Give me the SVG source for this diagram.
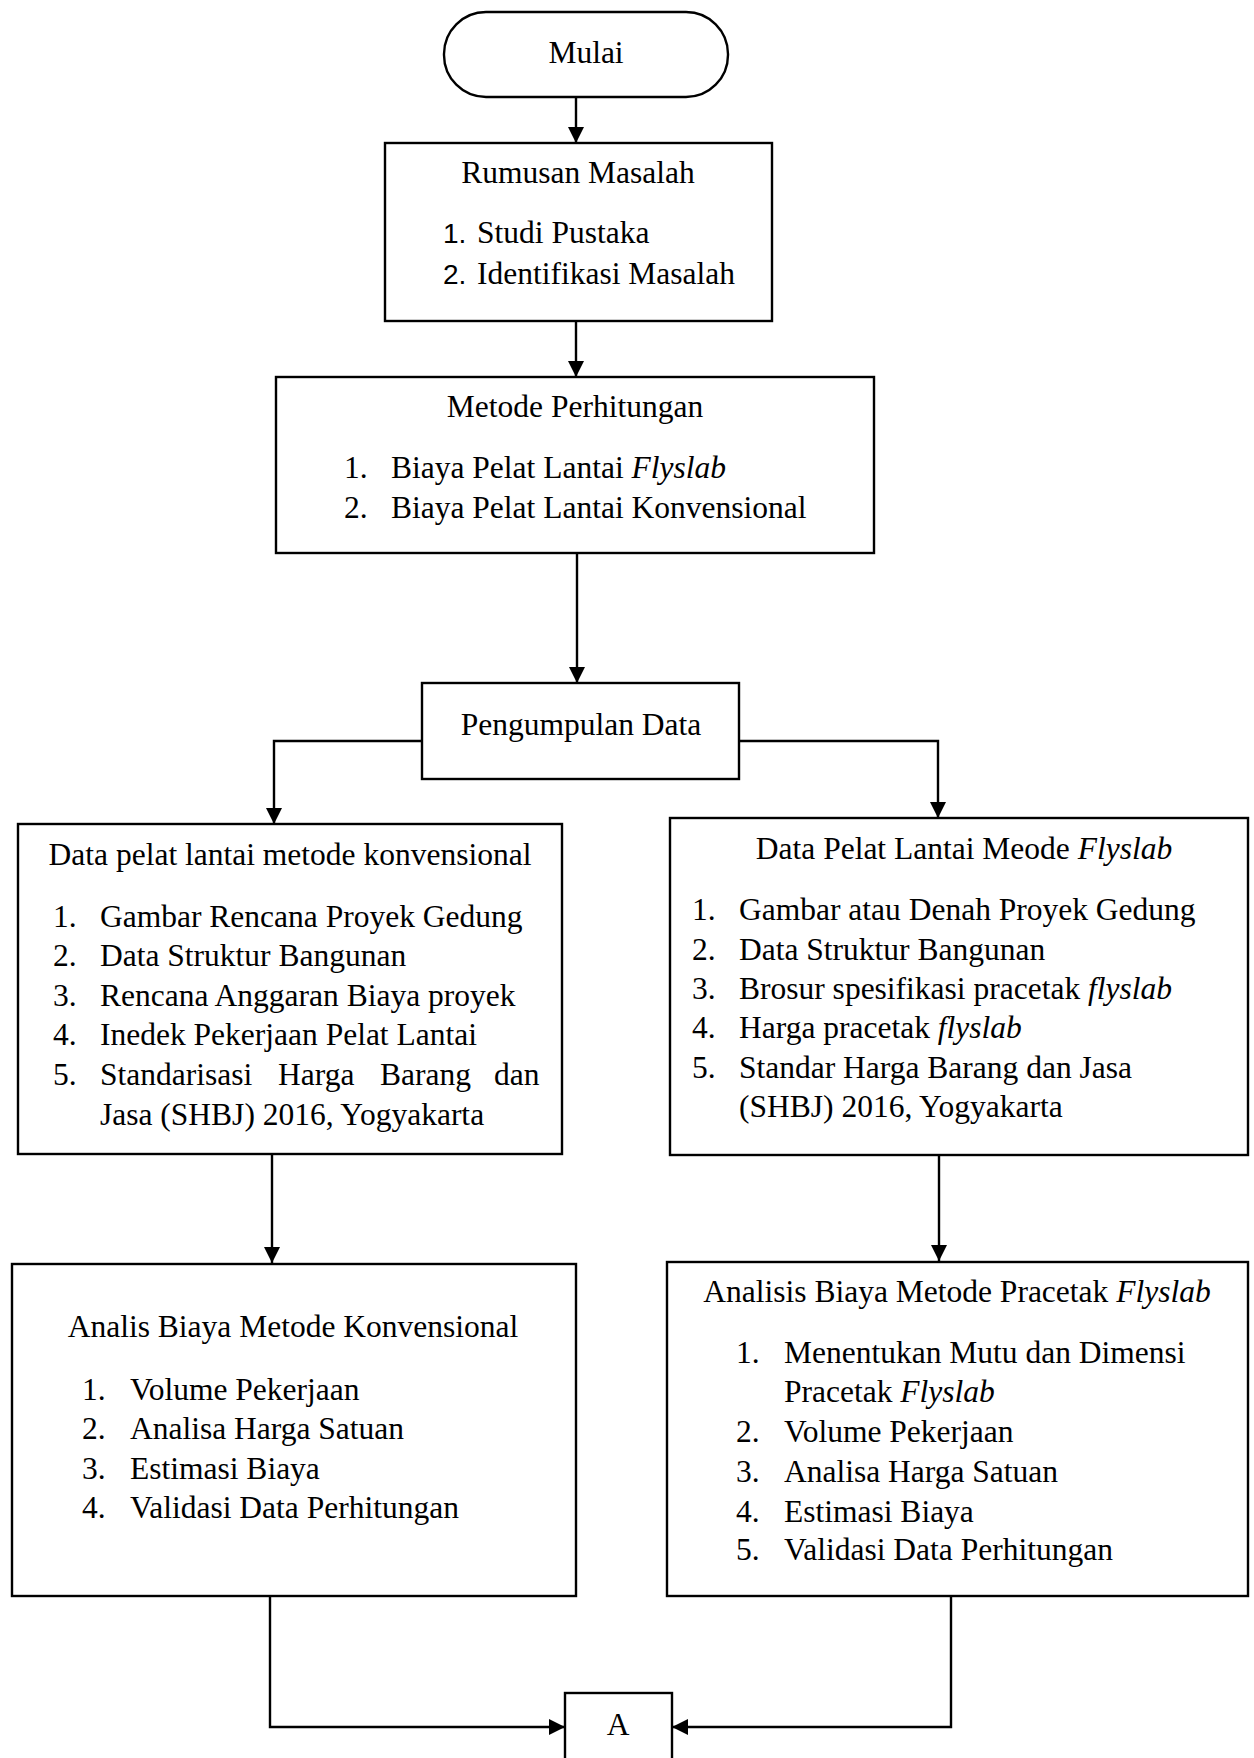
<svg xmlns="http://www.w3.org/2000/svg" width="1254" height="1758" viewBox="0 0 1254 1758">
<style>
  .box { fill: #ffffff; stroke: #000000; stroke-width: 2.4; }
  .conn { fill: none; stroke: #000000; stroke-width: 2.4; }
  text { font-family: "Liberation Serif", "Times New Roman", serif; font-size: 31.5px; fill: #000000; }
  .c { text-anchor: middle; }
  .sans { font-family: "Liberation Sans", Arial, sans-serif; font-size: 28px; }
  .i { font-style: italic; }
</style>
<defs>
  <marker id="arr" markerUnits="userSpaceOnUse" markerWidth="18" markerHeight="18" viewBox="0 0 18 18" refX="16" refY="9" orient="auto">
    <path d="M0,1 L16,9 L0,17 Z" fill="#000000"/>
  </marker>
</defs>
<rect width="1254" height="1758" fill="#ffffff"/>

<g id="connectors">
  <path class="conn" d="M576,97 V143" marker-end="url(#arr)"/>
  <path class="conn" d="M576,321 V377" marker-end="url(#arr)"/>
  <path class="conn" d="M577,553 V683" marker-end="url(#arr)"/>
  <path class="conn" d="M422,741 H274 V824" marker-end="url(#arr)"/>
  <path class="conn" d="M739,741 H938 V818" marker-end="url(#arr)"/>
  <path class="conn" d="M272,1154 V1263" marker-end="url(#arr)"/>
  <path class="conn" d="M939,1155 V1261" marker-end="url(#arr)"/>
  <path class="conn" d="M270,1596 V1727 H565" marker-end="url(#arr)"/>
  <path class="conn" d="M951,1596 V1727 H672" marker-end="url(#arr)"/>
</g>

<g id="mulai">
  <rect class="box" x="444" y="12" width="284" height="85" rx="42" ry="42"/>
  <text class="c" x="586" y="63">Mulai</text>
</g>

<g id="rumusan-masalah">
  <rect class="box" x="385" y="143" width="387" height="178"/>
  <text class="c" x="578" y="183">Rumusan Masalah</text>
  <text class="sans" x="443" y="243">1.</text>
  <text x="477" y="243">Studi Pustaka</text>
  <text class="sans" x="443" y="284">2.</text>
  <text x="477" y="284">Identifikasi Masalah</text>
</g>

<g id="metode-perhitungan">
  <rect class="box" x="276" y="377" width="598" height="176"/>
  <text class="c" x="575" y="417">Metode Perhitungan</text>
  <text x="344" y="478">1.</text>
  <text x="391" y="478">Biaya Pelat Lantai <tspan class="i">Flyslab</tspan></text>
  <text x="344" y="518">2.</text>
  <text x="391" y="518">Biaya Pelat Lantai Konvensional</text>
</g>

<g id="pengumpulan-data">
  <rect class="box" x="422" y="683" width="317" height="96"/>
  <text class="c" x="581" y="735">Pengumpulan Data</text>
</g>

<g id="data-konvensional">
  <rect class="box" x="18" y="824" width="544" height="330"/>
  <text class="c" x="290" y="865">Data pelat lantai metode konvensional</text>
  <text x="53" y="927">1.</text>
  <text x="100" y="927">Gambar Rencana Proyek Gedung</text>
  <text x="53" y="966">2.</text>
  <text x="100" y="966">Data Struktur Bangunan</text>
  <text x="53" y="1006">3.</text>
  <text x="100" y="1006">Rencana Anggaran Biaya proyek</text>
  <text x="53" y="1045">4.</text>
  <text x="100" y="1045">Inedek Pekerjaan Pelat Lantai</text>
  <text x="53" y="1085">5.</text>
  <text y="1085"><tspan x="100">Standarisasi</tspan> <tspan x="278">Harga</tspan> <tspan x="380">Barang</tspan> <tspan x="494">dan</tspan></text>
  <text x="100" y="1125">Jasa (SHBJ) 2016, Yogyakarta</text>
</g>

<g id="data-flyslab">
  <rect class="box" x="670" y="818" width="578" height="337"/>
  <text class="c" x="964" y="859">Data Pelat Lantai Meode <tspan class="i">Flyslab</tspan></text>
  <text x="692" y="920">1.</text>
  <text x="739" y="920">Gambar atau Denah Proyek Gedung</text>
  <text x="692" y="960">2.</text>
  <text x="739" y="960">Data Struktur Bangunan</text>
  <text x="692" y="999">3.</text>
  <text x="739" y="999">Brosur spesifikasi pracetak <tspan class="i">flyslab</tspan></text>
  <text x="692" y="1038">4.</text>
  <text x="739" y="1038">Harga pracetak <tspan class="i">flyslab</tspan></text>
  <text x="692" y="1078">5.</text>
  <text x="739" y="1078">Standar Harga Barang dan Jasa</text>
  <text x="739" y="1117">(SHBJ) 2016, Yogyakarta</text>
</g>

<g id="analisis-konvensional">
  <rect class="box" x="12" y="1264" width="564" height="332"/>
  <text class="c" x="293" y="1337">Analis Biaya Metode Konvensional</text>
  <text x="82" y="1400">1.</text>
  <text x="130" y="1400">Volume Pekerjaan</text>
  <text x="82" y="1439">2.</text>
  <text x="130" y="1439">Analisa Harga Satuan</text>
  <text x="82" y="1479">3.</text>
  <text x="130" y="1479">Estimasi Biaya</text>
  <text x="82" y="1518">4.</text>
  <text x="130" y="1518">Validasi Data Perhitungan</text>
</g>

<g id="analisis-flyslab">
  <rect class="box" x="667" y="1262" width="581" height="334"/>
  <text class="c" x="957" y="1302">Analisis Biaya Metode Pracetak <tspan class="i">Flyslab</tspan></text>
  <text x="736" y="1363">1.</text>
  <text x="784" y="1363">Menentukan Mutu dan Dimensi</text>
  <text x="784" y="1402">Pracetak <tspan class="i">Flyslab</tspan></text>
  <text x="736" y="1442">2.</text>
  <text x="784" y="1442">Volume Pekerjaan</text>
  <text x="736" y="1482">3.</text>
  <text x="784" y="1482">Analisa Harga Satuan</text>
  <text x="736" y="1522">4.</text>
  <text x="784" y="1522">Estimasi Biaya</text>
  <text x="736" y="1560">5.</text>
  <text x="784" y="1560">Validasi Data Perhitungan</text>
</g>

<g id="connector-a">
  <rect class="box" x="565" y="1693" width="107" height="75"/>
  <text class="c" x="618" y="1735">A</text>
</g>
</svg>
